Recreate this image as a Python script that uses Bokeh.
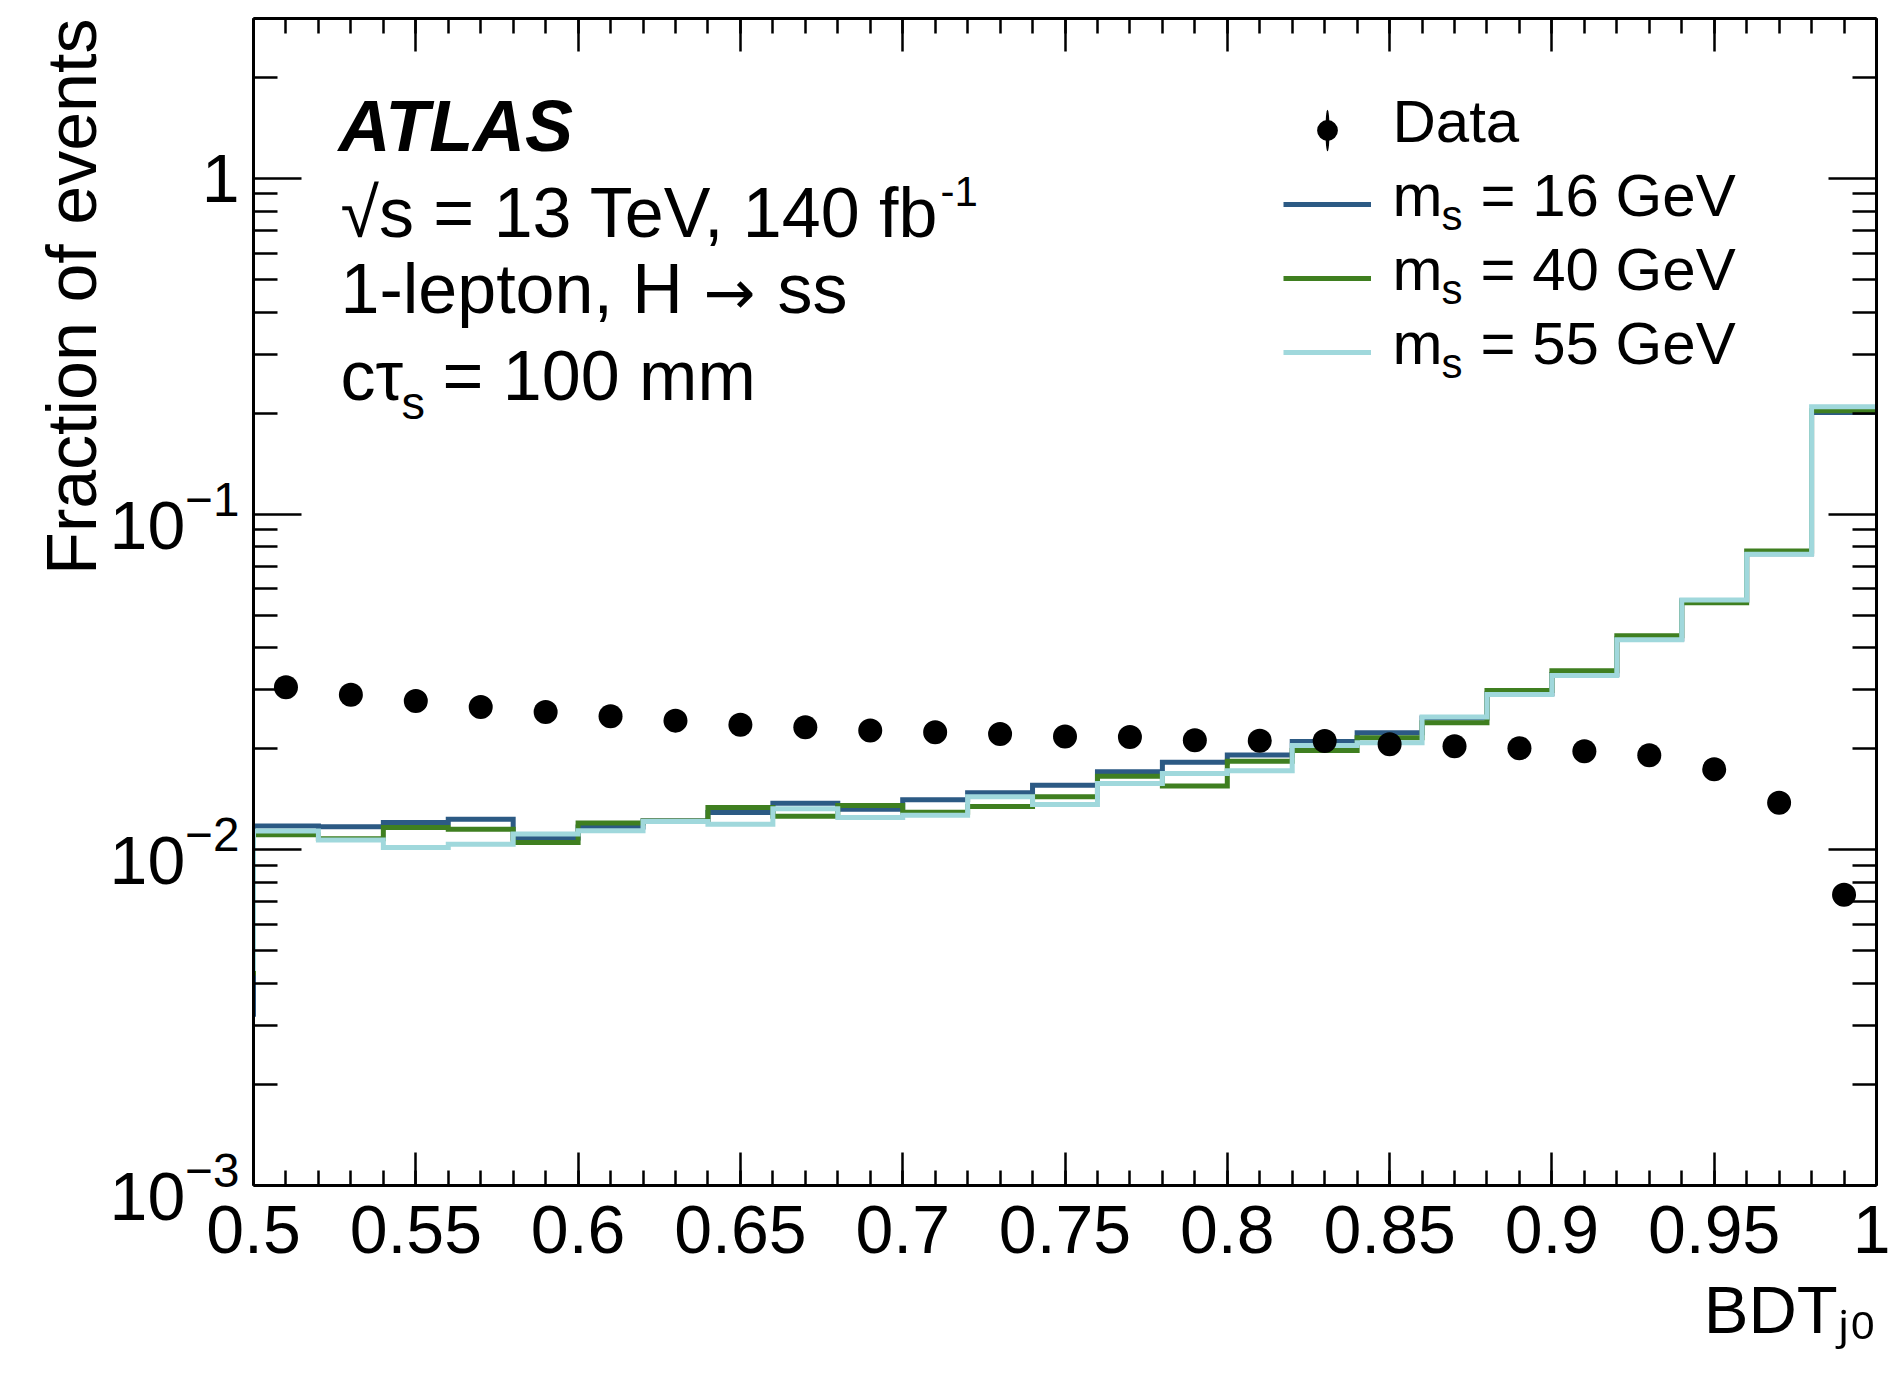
import math

from bokeh.embed import file_html
from bokeh.models import (ColumnDataSource, CustomJSTickFormatter, FixedTicker, Label,
                          Legend, LegendItem, LinearAxis, LogAxis, LogTickFormatter,
                          Range1d, SingleIntervalTicker, Title)
from bokeh.plotting import figure
from bokeh.resources import INLINE

# ---------------------------------------------------------------- data
# Histogram bin edges (first bin 0.48-0.50 lies just left of the displayed range)
bin_edges = [0.48, 0.50, 0.52, 0.54, 0.56, 0.58, 0.60, 0.62, 0.64, 0.66, 0.68, 0.70,
             0.72, 0.74, 0.76, 0.78, 0.80, 0.82, 0.84, 0.86, 0.88, 0.90, 0.92, 0.94,
             0.96, 0.98, 1.00]

# Normalised signal shapes, one value per bin
frac_m16 = [0.00324, 0.01179, 0.01171, 0.01207, 0.01234, 0.01084, 0.01170, 0.01220,
            0.01292, 0.01378, 0.01322, 0.01411, 0.01481, 0.01558, 0.01708, 0.01823,
            0.01918, 0.02103, 0.02234, 0.02470, 0.02920, 0.03330, 0.04250, 0.05520,
            0.07620, 0.20100]
frac_m40 = [0.00430, 0.01110, 0.01080, 0.01166, 0.01152, 0.01052, 0.01203, 0.01220,
            0.01337, 0.01259, 0.01356, 0.01295, 0.01347, 0.01440, 0.01658, 0.01551,
            0.01836, 0.01976, 0.02158, 0.02394, 0.02987, 0.03418, 0.04345, 0.05450,
            0.07770, 0.20350]
frac_m55 = [0.00443, 0.01139, 0.01071, 0.01016, 0.01040, 0.01115, 0.01141, 0.01215,
            0.01192, 0.01325, 0.01248, 0.01268, 0.01440, 0.01366, 0.01576, 0.01689,
            0.01720, 0.02046, 0.02084, 0.02489, 0.02905, 0.03308, 0.04227, 0.05550,
            0.07600, 0.20900]

# Data, at the bin centres
data_x = [0.51, 0.53, 0.55, 0.57, 0.59, 0.61, 0.63, 0.65, 0.67, 0.69, 0.71, 0.73, 0.75,
          0.77, 0.79, 0.81, 0.83, 0.85, 0.87, 0.89, 0.91, 0.93, 0.95, 0.97, 0.99]
data_y = [0.03050, 0.02900, 0.02777, 0.02665, 0.02575, 0.02500, 0.02427, 0.02361,
          0.02319, 0.02267, 0.02242, 0.02213, 0.02178, 0.02168, 0.02123, 0.02113,
          0.02109, 0.02065, 0.02037, 0.02009, 0.01967, 0.01914, 0.01738, 0.01381,
          0.00735]

mass_values = ["16", "40", "55"]
series_colors = ["#2c5a84", "#3f7f20", "#a0d8dc"]

x_title = "BDT\u2c7c\u2080"
y_title = "Fraction of events"
x_major_labels_fmt = "return Number(tick.toFixed(2)).toString();"
y_major = [1e-3, 1e-2, 1e-1, 1.0]
y_minor = [k * 10.0 ** e for e in (-3, -2, -1) for k in range(2, 10)] + [2.0, 3.0]

# ---------------------------------------------------------------- geometry
W, H = 1890, 1394
FL, FR, FT, FB = 253, 1876, 18, 1185
X0, X1 = 0.5, 1.0
Y0, Y1 = 1e-3, 3.0

FONT = "Liberation Sans"


def to_dx(px):
    """canvas x (px) -> data x"""
    return X0 + (px - FL) / (FR - FL) * (X1 - X0)


def to_dy(py):
    """canvas y (px, from top) -> data y on the log axis"""
    l1, l0 = math.log10(Y1), math.log10(Y0)
    return 10 ** (l1 - (py - FT) / (FB - FT) * (l1 - l0))


p = figure(width=W, height=H, output_backend="svg", toolbar_location=None,
           x_range=Range1d(X0, X1), y_range=Range1d(Y0, Y1), y_axis_type="log",
           min_border_left=FL, min_border_right=W - FR, min_border_top=FT,
           min_border_bottom=H - FB, outline_line_color=None,
           background_fill_color="white", border_fill_color="white")
p.grid.visible = False


def style_axis(ax, major_len, minor_len):
    ax.axis_line_color = "black"
    ax.axis_line_width = 3
    ax.major_tick_in = major_len
    ax.major_tick_out = 0
    ax.minor_tick_in = minor_len
    ax.minor_tick_out = 0
    ax.major_tick_line_color = "black"
    ax.minor_tick_line_color = "black"
    ax.major_tick_line_width = 2.5
    ax.minor_tick_line_width = 2.5
    ax.major_label_text_font = FONT
    ax.major_label_text_color = "black"


def make_x_ticker():
    return SingleIntervalTicker(interval=0.05, num_minor_ticks=5)


def make_y_ticker():
    return FixedTicker(ticks=y_major, minor_ticks=y_minor)


blank = "return '';"

xb = p.xaxis[0]
xb.ticker = make_x_ticker()
xb.formatter = CustomJSTickFormatter(code=x_major_labels_fmt)
style_axis(xb, 33, 15)
xb.major_label_text_font_size = "68px"
xb.major_label_standoff = 20

yl = p.yaxis[0]
yl.ticker = make_y_ticker()
yl.formatter = LogTickFormatter(min_exponent=1)
style_axis(yl, 48, 24)
yl.major_label_text_font_size = "68px"
yl.major_label_standoff = 14

xt = LinearAxis(ticker=make_x_ticker(), formatter=CustomJSTickFormatter(code=blank))
style_axis(xt, 33, 15)
xt.major_label_text_font_size = "1px"
xt.major_label_standoff = 0
p.add_layout(xt, "above")

yr = LogAxis(ticker=make_y_ticker(), formatter=CustomJSTickFormatter(code=blank))
style_axis(yr, 48, 24)
yr.major_label_text_font_size = "1px"
yr.major_label_standoff = 0
p.add_layout(yr, "right")

# axis titles, flush with the far end of each axis
p.add_layout(Title(text=x_title, align="right", text_font=FONT,
                   text_font_size="67px", text_font_style="normal",
                   text_color="black", standoff=28, offset=0), "below")
p.add_layout(Title(text=y_title, align="right", text_font=FONT,
                   text_font_size="70px", text_font_style="normal",
                   text_color="black", standoff=-8, offset=0), "left")

# ---------------------------------------------------------------- histograms
hsrc = ColumnDataSource(dict(
    edge=bin_edges,
    m16=frac_m16 + [frac_m16[-1]],
    m40=frac_m40 + [frac_m40[-1]],
    m55=frac_m55 + [frac_m55[-1]],
))
hist_renderers = []
for col, colour in zip(["m16", "m40", "m55"], series_colors):
    r = p.step("edge", col, source=hsrc, mode="after", line_color=colour,
               line_width=5, line_join="miter")
    hist_renderers.append(r)

# ---------------------------------------------------------------- data points
dsrc = ColumnDataSource(dict(x=data_x, y=data_y))
# thin vertical error-bar bodies (smaller than the markers)
bar_r = p.ellipse("x", "y", width=2, height=20, width_units="screen",
                  height_units="screen", source=dsrc, fill_color="black",
                  line_color=None)
dot_r = p.scatter("x", "y", source=dsrc, marker="circle", size=24,
                  fill_color="black", line_color=None)

# ---------------------------------------------------------------- legend keys
KEY_X0, KEY_W = 1283, 88


def add_key(renderers, row_centre, key_h):
    leg = Legend(items=[LegendItem(label=" ", renderers=renderers)],
                 location=(KEY_X0 - FL, FB - (row_centre + key_h / 2)),
                 glyph_width=KEY_W, glyph_height=key_h, label_height=0,
                 label_width=0, label_standoff=0, label_text_font_size="1px",
                 spacing=0, padding=0, margin=0, border_line_color=None,
                 background_fill_alpha=0)
    p.add_layout(leg)


add_key([bar_r, dot_r], 130, 52)
for r, yc in zip(hist_renderers, [204, 278, 352]):
    add_key([r], yc, 20)

# ---------------------------------------------------------------- texts
BASE_SHIFT = 0.41  # baseline correction, in em


def add_text(txt, px, py, size, style="normal", font=FONT):
    p.add_layout(Label(x=to_dx(px), y=to_dy(py - BASE_SHIFT * size), text=txt,
                       text_font=font, text_font_size=f"{size}px",
                       text_font_style=style, text_color="black",
                       text_align="left", text_baseline="alphabetic"))


add_text("ATLAS", 338, 155, 72, style="bold italic")
add_text("\u221as = 13 TeV, 140 fb", 340, 241, 70)
add_text("-1", 940, 208, 42)
add_text("1-lepton, H", 340, 317, 70)
add_text("\u2192", 703, 317, 62, font="DejaVu Sans")
add_text("ss", 777, 317, 70)
add_text("c\u03c4", 340, 404, 70)
add_text("s", 401, 421, 47)
add_text("= 100 mm", 442, 404, 70)

# legend texts
add_text("Data", 1392, 146, 60)
for m, yb in zip(mass_values, [220, 294, 368]):
    add_text("m", 1392, yb, 60)
    add_text("s", 1441, yb + 12, 42)
    add_text(f"= {m} GeV", 1480, yb, 60)

open("out.html", "w").write(file_html(p, INLINE))
